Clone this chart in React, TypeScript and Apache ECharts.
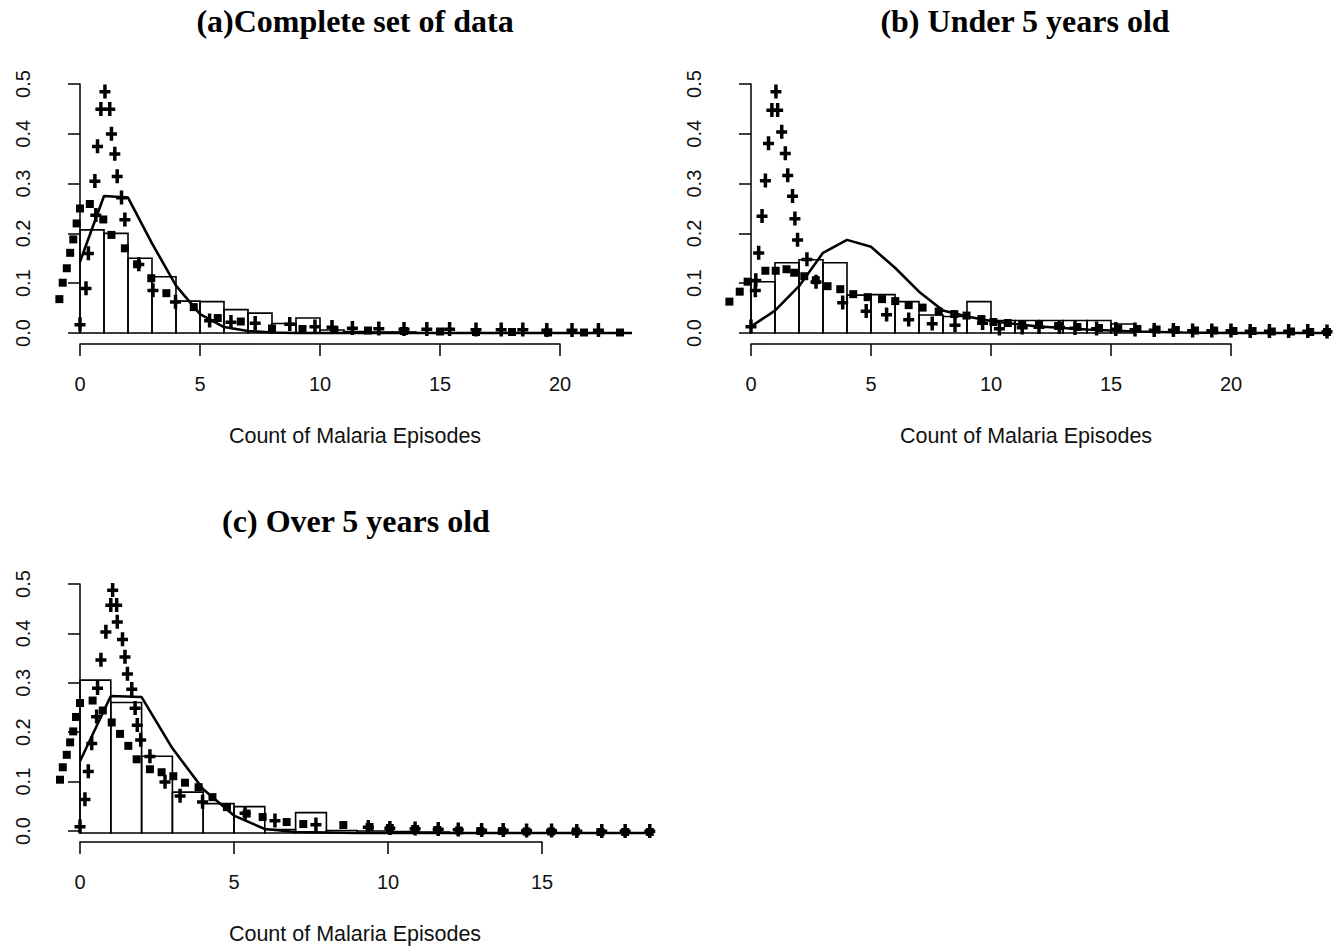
import React, { useEffect, useRef } from "react";
import * as echarts from "echarts";

// ---------- texts ----------
const panelTitles = ["(a)Complete set of data", "(b) Under 5 years old", "(c) Over 5 years old"];
const xAxisTitle = "Count of Malaria Episodes";

// ---------- tick values ----------
const yTicksMax = 0.5;
const xTicksMaxA = 20;
const xTicksMaxB = 20;
const xTicksMaxC = 15;

// ---------- panel (a) ----------
const barsA = [0.207, 0.2, 0.15, 0.113, 0.064, 0.063, 0.047, 0.04, 0.019, 0.03, 0.006, 0.003, 0.002, 0.002];
const lineA = [
  [0, 0.143], [1, 0.275], [2, 0.272], [3, 0.18], [4, 0.095], [5, 0.038], [6, 0.012], [7, 0.004],
  [8, 0.001], [9, 0.0], [10, 0.0], [12, 0.0], [15, 0.0], [20, 0.0], [23, 0.0],
];
const crossesA = [
  [0.0, 0.017], [0.25, 0.09], [0.35, 0.16], [0.62, 0.305], [0.66, 0.237], [0.73, 0.375], [0.87, 0.45],
  [1.04, 0.485], [1.24, 0.45], [1.31, 0.4], [1.45, 0.36], [1.55, 0.315], [1.73, 0.272], [1.87, 0.228],
  [2.45, 0.138], [3.04, 0.086], [3.98, 0.063], [5.4, 0.025], [6.29, 0.022], [7.3, 0.02], [8.74, 0.018],
  [9.79, 0.013], [10.5, 0.012], [11.35, 0.01], [12.45, 0.009], [13.5, 0.008], [14.45, 0.008],
  [15.4, 0.008], [16.5, 0.007], [17.55, 0.007], [18.45, 0.007], [19.45, 0.006], [20.5, 0.006], [21.6, 0.006],
];
const squaresA = [
  [-0.86, 0.068], [-0.72, 0.101], [-0.55, 0.13], [-0.41, 0.161], [-0.28, 0.188], [-0.14, 0.22],
  [0.0, 0.25], [0.41, 0.259], [0.97, 0.228], [1.31, 0.197], [1.87, 0.17], [2.38, 0.138], [2.97, 0.11],
  [3.6, 0.08], [4.74, 0.052], [5.74, 0.03], [6.7, 0.023], [8.0, 0.009], [9.27, 0.008], [10.6, 0.006],
  [12.0, 0.005], [13.5, 0.004], [15.0, 0.003], [16.5, 0.002], [18.0, 0.002], [19.5, 0.001], [21.0, 0.001],
  [22.5, 0.001],
];

// ---------- panel (b) ----------
const barsB = [0.103, 0.141, 0.147, 0.141, 0.076, 0.077, 0.063, 0.036, 0.033, 0.063, 0.025, 0.025, 0.025, 0.025, 0.025, 0.018];
const lineB = [
  [0, 0.013], [1, 0.045], [2, 0.094], [3, 0.161], [4, 0.187], [5, 0.173], [6, 0.131], [7, 0.083],
  [8, 0.045], [9, 0.033], [10, 0.024], [11, 0.018], [12, 0.013], [13, 0.01], [14, 0.007], [15, 0.005],
  [16, 0.003], [17, 0.002], [18, 0.001], [20, 0.0], [24.1, 0.0],
];
const crossesB = [
  [0.0, 0.013], [0.18, 0.086], [0.2, 0.106], [0.32, 0.161], [0.46, 0.235], [0.6, 0.306], [0.73, 0.381],
  [0.87, 0.448], [1.04, 0.485], [1.11, 0.448], [1.28, 0.404], [1.43, 0.361], [1.53, 0.317], [1.73, 0.275],
  [1.83, 0.23], [1.94, 0.187], [2.33, 0.148], [2.71, 0.103], [3.82, 0.061], [4.8, 0.044], [5.65, 0.037],
  [6.57, 0.027], [7.55, 0.019], [8.5, 0.016], [9.65, 0.02], [10.35, 0.009], [11.3, 0.011], [12.0, 0.012],
  [12.85, 0.012], [13.5, 0.01], [14.4, 0.009], [15.2, 0.008], [16.0, 0.007], [16.8, 0.006], [17.6, 0.006],
  [18.4, 0.005], [19.2, 0.005], [20.0, 0.005], [20.8, 0.004], [21.6, 0.004], [22.4, 0.004], [23.2, 0.004],
  [24.0, 0.003],
];
const squaresB = [
  [-0.9, 0.063], [-0.47, 0.083], [-0.14, 0.103], [0.6, 0.125], [1.03, 0.125], [1.48, 0.128], [1.8, 0.121],
  [2.22, 0.114], [2.7, 0.106], [3.19, 0.094], [3.72, 0.088], [4.26, 0.078], [4.86, 0.072], [5.46, 0.068],
  [6.01, 0.064], [6.57, 0.056], [7.15, 0.051], [7.82, 0.043], [8.47, 0.038], [8.98, 0.035], [9.6, 0.028],
  [10.1, 0.022], [10.7, 0.02], [11.3, 0.018], [12.0, 0.016], [12.8, 0.014], [13.6, 0.012], [14.5, 0.01],
  [15.3, 0.009], [16.1, 0.008], [16.9, 0.007], [17.7, 0.006], [18.5, 0.005], [19.3, 0.005], [20.1, 0.004],
  [20.9, 0.004], [21.7, 0.003], [22.5, 0.003], [23.3, 0.002], [24.0, 0.002],
];

// ---------- panel (c) ----------
const barsC = [0.307, 0.262, 0.154, 0.082, 0.059, 0.053, 0.007, 0.041, 0.005, 0.004, 0.003, 0.002];
const lineC = [
  [0, 0.144], [1, 0.275], [2, 0.273], [3, 0.17], [4, 0.088], [5, 0.035], [6, 0.008], [7, 0.002],
  [8, 0.001], [9, 0.0], [12, 0.0], [15, 0.0], [18.6, 0.0],
];
const crossesC = [
  [0.0, 0.013], [0.16, 0.068], [0.27, 0.124], [0.38, 0.18], [0.54, 0.234], [0.57, 0.291], [0.68, 0.348],
  [0.84, 0.404], [1.0, 0.458], [1.06, 0.488], [1.19, 0.458], [1.21, 0.424], [1.38, 0.389], [1.46, 0.354],
  [1.54, 0.32], [1.68, 0.289], [1.79, 0.251], [1.86, 0.217], [1.97, 0.187], [2.27, 0.154], [2.76, 0.103],
  [3.25, 0.075], [3.98, 0.063], [5.36, 0.04], [6.33, 0.025], [7.66, 0.017], [9.36, 0.012], [10.06, 0.01],
  [10.88, 0.009], [11.63, 0.008], [12.28, 0.007], [13.04, 0.006], [13.74, 0.006], [14.5, 0.005],
  [15.31, 0.005], [16.13, 0.004], [16.94, 0.004], [17.7, 0.004], [18.5, 0.004],
];
const squaresC = [
  [-0.65, 0.107], [-0.56, 0.132], [-0.43, 0.157], [-0.32, 0.182], [-0.22, 0.204], [-0.13, 0.233],
  [0.0, 0.261], [0.41, 0.266], [0.74, 0.246], [1.03, 0.222], [1.3, 0.199], [1.57, 0.175], [1.84, 0.148],
  [2.27, 0.128], [2.65, 0.122], [3.03, 0.114], [3.41, 0.101], [3.85, 0.092], [4.3, 0.072], [4.77, 0.052],
  [5.41, 0.039], [5.93, 0.032], [6.71, 0.022], [7.25, 0.018], [8.55, 0.016], [9.4, 0.012], [10.06, 0.01],
  [10.88, 0.008], [11.6, 0.006], [12.3, 0.005], [13.0, 0.004], [13.7, 0.004], [14.5, 0.003], [15.3, 0.003],
  [16.1, 0.003], [16.9, 0.002], [17.7, 0.002], [18.5, 0.002],
];

// ---------- layout ----------
type Panel = {
  title: string;
  bars: number[];
  line: number[][];
  crosses: number[][];
  squares: number[][];
  xTickMax: number;
  x0: number; // pixel of x = 0
  pxPerX: number;
  yZero: number; // pixel of y = 0
  yAxisX: number; // pixel of y-axis line
  rightX: number; // right edge of plot region
  titleX: number;
  titleY: number;
  nameCenter: number; // pixel centre of the x-axis title
};

const PX_PER_Y = 498;
const CROSS = "path://M3.75,0H7.25V5.5H11V9H7.25V14H3.75V9H0V5.5H3.75Z";
const SANS = "Liberation Sans, Arial, sans-serif";
const SERIF = "Liberation Serif, Times New Roman, serif";

const panels: Panel[] = [
  {
    title: panelTitles[0], bars: barsA, line: lineA, crosses: crossesA, squares: squaresA,
    xTickMax: xTicksMaxA, x0: 80, pxPerX: 24, yZero: 333, yAxisX: 59, rightX: 633,
    titleX: 355, titleY: 5, nameCenter: 355,
  },
  {
    title: panelTitles[1], bars: barsB, line: lineB, crosses: crossesB, squares: squaresB,
    xTickMax: xTicksMaxB, x0: 751, pxPerX: 24, yZero: 333, yAxisX: 730, rightX: 1331,
    titleX: 1025, titleY: 5, nameCenter: 1026,
  },
  {
    title: panelTitles[2], bars: barsC, line: lineC, crosses: crossesC, squares: squaresC,
    xTickMax: xTicksMaxC, x0: 80, pxPerX: 30.8, yZero: 833, yAxisX: 59, rightX: 655,
    titleX: 356, titleY: 505, nameCenter: 355,
  },
];

function buildOption() {
  const grid: any[] = [];
  const xAxis: any[] = [];
  const yAxis: any[] = [];
  const series: any[] = [];
  const title: any[] = [];

  panels.forEach((p, i) => {
    const dataIdx = i * 2;
    const axisIdx = i * 2 + 1;
    const yTopPx = p.yZero - 0.52 * PX_PER_Y;
    const xmin = (p.yAxisX - p.x0) / p.pxPerX;
    const xmax = (p.rightX - p.x0) / p.pxPerX;
    const axisWidth = p.xTickMax * p.pxPerX;
    const shift = p.nameCenter - (p.x0 + axisWidth / 2);

    // data grid (hidden axes)
    grid.push({ left: p.yAxisX, top: yTopPx, width: p.rightX - p.yAxisX, height: 0.54 * PX_PER_Y });
    // axis grid (R style axes spanning tick range)
    grid.push({ left: p.x0, top: p.yZero - yTicksMax * PX_PER_Y, width: axisWidth, height: yTicksMax * PX_PER_Y });

    xAxis.push({ gridIndex: dataIdx, type: "value", min: xmin, max: xmax, show: false });
    yAxis.push({ gridIndex: dataIdx, type: "value", min: -0.02, max: 0.52, show: false });

    xAxis.push({
      gridIndex: axisIdx, type: "value", min: 0, max: p.xTickMax, interval: 5, offset: 11,
      axisLine: { show: true, onZero: false, lineStyle: { color: "#000", width: 1.5 } },
      axisTick: { show: true, length: 12, lineStyle: { color: "#000", width: 1.5 } },
      axisLabel: { show: true, color: "#111", fontSize: 20, fontFamily: SANS, margin: 30 },
      splitLine: { show: false },
      name: xAxisTitle, nameLocation: "middle", nameGap: 81,
      nameTextStyle: {
        color: "#111", fontSize: 21.5, fontFamily: SANS,
        padding: shift >= 0 ? [0, 0, 0, shift * 2] : [0, -shift * 2, 0, 0],
      },
    });
    yAxis.push({
      gridIndex: axisIdx, type: "value", min: 0, max: yTicksMax, interval: 0.1, offset: p.x0 - p.yAxisX,
      axisLine: { show: true, lineStyle: { color: "#000", width: 1.5 } },
      axisTick: { show: true, length: 12, lineStyle: { color: "#000", width: 1.5 } },
      axisLabel: {
        show: true, rotate: 90, color: "#111", fontSize: 20, fontFamily: SANS, margin: 26,
        formatter: (v: number) => v.toFixed(1),
      },
      splitLine: { show: false },
    });

    title.push({
      text: p.title, left: p.titleX, top: p.titleY, textAlign: "center", padding: 0,
      textStyle: { fontFamily: SERIF, fontWeight: "bold", fontSize: 32, color: "#000" },
    });

    series.push({
      type: "custom", xAxisIndex: dataIdx, yAxisIndex: dataIdx,
      data: p.bars.map((v, k) => [k, k + 1, v]),
      encode: { x: [0, 1], y: 2 },
      renderItem: (_params: any, api: any) => {
        const a = api.coord([api.value(0), api.value(2)]);
        const b = api.coord([api.value(1), 0]);
        return {
          type: "rect",
          shape: { x: a[0], y: a[1], width: b[0] - a[0], height: b[1] - a[1] },
          style: { fill: "rgba(0,0,0,0)", stroke: "#000", lineWidth: 1.6 },
        };
      },
      clip: false,
      z: 1,
    });
    series.push({
      type: "line", xAxisIndex: dataIdx, yAxisIndex: dataIdx, data: p.line,
      showSymbol: false, symbol: "none", lineStyle: { color: "#000", width: 2.6 }, clip: false, z: 2,
    });
    series.push({
      type: "scatter", xAxisIndex: dataIdx, yAxisIndex: dataIdx, data: p.squares,
      symbol: "rect", symbolSize: 8, itemStyle: { color: "#000", opacity: 1 }, clip: false, z: 3,
    });
    series.push({
      type: "scatter", xAxisIndex: dataIdx, yAxisIndex: dataIdx, data: p.crosses,
      symbol: CROSS, symbolSize: [11, 14], itemStyle: { color: "#000", opacity: 1 }, clip: false, z: 4,
    });
  });

  return { animation: false, backgroundColor: "#fff", title, grid, xAxis, yAxis, series };
}

export default function App() {
  const ref = useRef<HTMLDivElement | null>(null);
  useEffect(() => {
    if (!ref.current) return;
    const chart = echarts.init(ref.current, null, { renderer: "svg" });
    chart.setOption(buildOption());
    return () => chart.dispose();
  }, []);
  return (
    <div
      ref={ref}
      style={{ position: "fixed", left: 0, top: 0, width: 1333, height: 946, background: "#fff" }}
    />
  );
}
